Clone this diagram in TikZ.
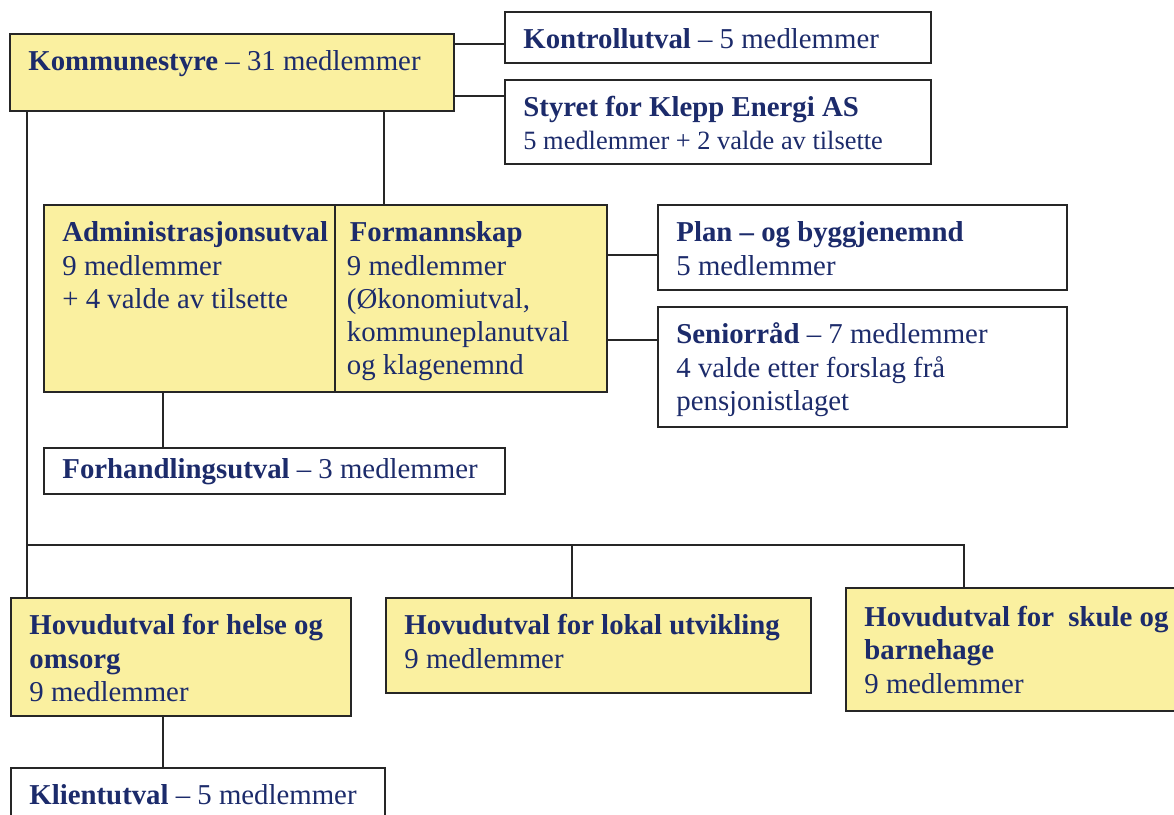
\documentclass[tikz,border=0pt]{standalone}
\usepackage{fontspec}
\setmainfont{Liberation Serif}
\usepackage{tikz}
\usepackage{color}
\definecolor{boxyellow}{RGB}{250,240,160}
\definecolor{navy}{HTML}{1C2B6B}
\definecolor{edge}{HTML}{262626}

\begin{document}
\begin{tikzpicture}[x=0.4167pt, y=-0.4167pt,
                    yellow_node/.style={draw=edge, fill=boxyellow, line width=0.8pt, anchor=north west, align=left,
                        text=navy, font=\fontsize{12}{13.8}\selectfont, inner xsep=7.7pt, inner ysep=0pt,
                        text height=15.4pt, execute at begin node=\spaceskip 0pt\xspaceskip 0pt\relax},
                    white_node/.style={yellow_node, fill=white},
                    link/.style={draw=edge, line width=0.6pt}
                ]
                    \useasboundingbox (0,0) rectangle (1174,814);
                    \clip (0,0) rectangle (1174,814);

                    \node[yellow_node, text width=169.6pt, text depth=16.7pt] (kst) at (9,33) {\textbf{Kommunestyre} -- 31 medlemmer};
                    \node[white_node, text width=162.1pt, text depth=5.85pt] (kontroll) at (504,11) {\textbf{Kontrollutval} -- 5 medlemmer};
                    \node[white_node, text width=162.1pt, text depth=19.6pt] (styret) at (504,79) {\textbf{Styret for Klepp Energi AS}\\[-0.4pt]{\fontsize{11}{13.4}\selectfont 5 medlemmer + 2 valde av tilsette}};

                    \node[yellow_node, text width=105.85pt, text depth=62.5pt] (adm) at (43,204) {\textbf{Administrasjonsutval}\\9 medlemmer\\+ 4 valde av tilsette};
                    \node[yellow_node, inner xsep=5pt, text width=103.3pt, text depth=62.5pt] (form) at (334,204) {\hspace{1.2pt}\textbf{Formannskap}\\9 medlemmer\\(Økonomiutval,\\kommuneplanutval\\og klagenemnd};
                    \node[white_node, text width=155pt, text depth=20pt] (plan) at (657,204) {\textbf{Plan -- og byggjenemnd}\\5 medlemmer};
                    \node[white_node, text width=155pt, text depth=34.6pt] (senior) at (657,306) {\textbf{Seniorråd} -- 7 medlemmer\\4 valde etter forslag frå\\pensjonistlaget};
                    \node[white_node, text width=176.7pt, text height=12.9pt, text depth=6.3pt] (forh) at (43,447) {\textbf{Forhandlingsutval} -- 3 medlemmer};

                    \node[yellow_node, text width=126.3pt, text depth=33.8pt] (helse) at (10,597) {\textbf{Hovudutval for helse og}\\\textbf{omsorg}\\9 medlemmer};
                    \node[yellow_node, text width=161.7pt, text depth=24.2pt] (lokal) at (385,597) {\textbf{Hovudutval for lokal utvikling}\\9 medlemmer};
                    \node[yellow_node, text width=140pt, text height=16.2pt, text depth=35pt] (skule) at (845,587) {\textbf{Hovudutval for\ \ skule og}\\\textbf{barnehage}\\9 medlemmer};
                    \node[white_node, text width=140.4pt, text depth=12pt] (klient) at (10,767) {\textbf{Klientutval} -- 5 medlemmer};

                    \coordinate (bus) at (27,545);

                    \draw[link] (kst.east |- 0,44) -- (kontroll.west |- 0,44);
                    \draw[link] (kst.east |- 0,96) -- (styret.west |- 0,96);
                    \draw[link] (kst.south -| 384,0) -- (form.north -| 384,0);
                    \draw[link] (form.east |- 0,255) -- (plan.west |- 0,255);
                    \draw[link] (form.east |- 0,340) -- (senior.west |- 0,340);
                    \draw[link] (adm.south -| 163,0) -- (forh.north -| 163,0);
                    \draw[link] (kst.south -| bus) -- (helse.north -| bus);
                    \draw[link] (bus) -| (skule.north -| 964,0);
                    \draw[link] (bus -| 572,0) -- (lokal.north -| 572,0);
                    \draw[link] (helse.south -| 163,0) -- (klient.north -| 163,0);
                \end{tikzpicture}
\end{document}
